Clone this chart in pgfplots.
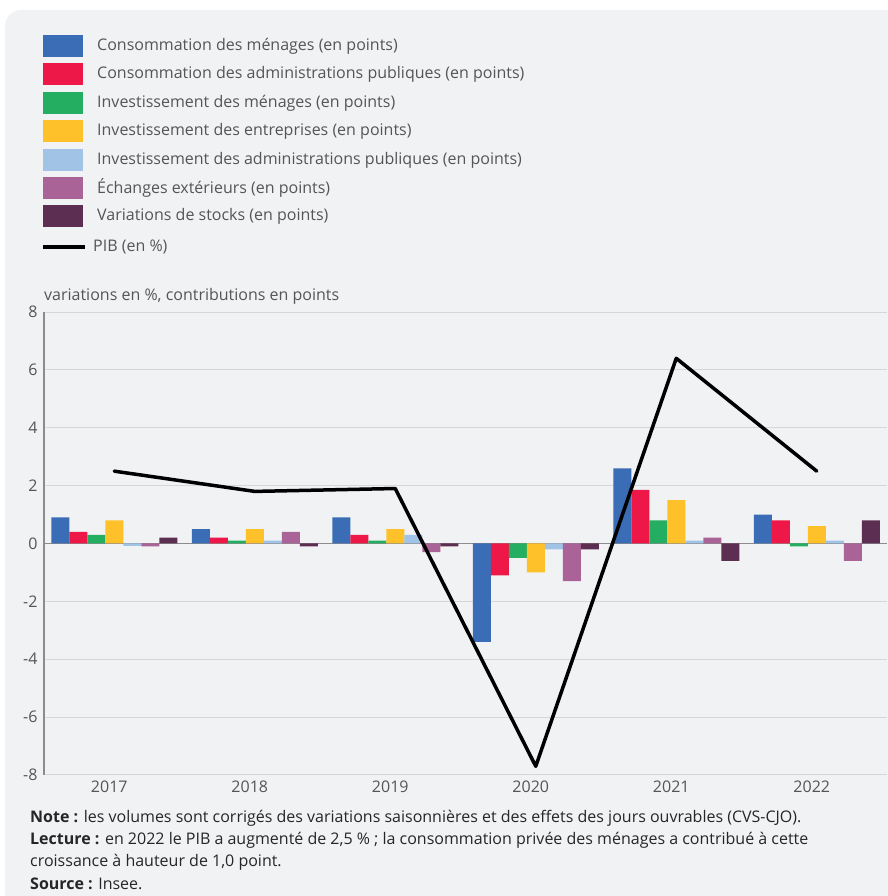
\documentclass[border=0pt]{standalone}
\usepackage{pgfplots}
\pgfplotsset{compat=1.18}
\usepackage{fontspec}
\setmainfont{Open Sans}
\definecolor{bg}{HTML}{F1F2F4}
\definecolor{cblue}{HTML}{3A6DB5}
\definecolor{cred}{HTML}{EE1848}
\definecolor{cgreen}{HTML}{23AE62}
\definecolor{cyellow}{HTML}{FFC12A}
\definecolor{clight}{HTML}{A0C3E6}
\definecolor{cpurple}{HTML}{AA6396}
\definecolor{cdark}{HTML}{5C2E52}
\definecolor{txt}{HTML}{555555}
\definecolor{gridc}{HTML}{D5D6D9}
\definecolor{zeroc}{HTML}{8C8C8C}
\newcommand{\fs}{\fontsize{16}{19}\selectfont}
\begin{document}
\begin{tikzpicture}[x=1pt,y=1pt]
\path[use as bounding box] (0,0) rectangle (887,896);
\fill[white] (0,0) rectangle (887,896);
\fill[bg, rounded corners=16pt] (5,-30) rectangle (920,886);
% legend
\fill[cblue]   (43,861) rectangle (83,839);
\fill[cred]    (43,833) rectangle (83,811);
\fill[cgreen]  (43,804) rectangle (83,782);
\fill[cyellow] (43,776) rectangle (83,754);
\fill[clight]  (43,747) rectangle (83,725);
\fill[cpurple] (43,719) rectangle (83,697);
\fill[cdark]   (43,691) rectangle (83,669);
\draw[black, line width=3.5pt] (43,649) -- (85,649);
\begin{scope}[every node/.style={anchor=west, text=txt, font=\fs, inner sep=0pt}]
\node at (97,850) {Consommation des ménages (en points)};
\node at (97,822) {Consommation des administrations publiques (en points)};
\node at (97,793) {Investissement des ménages (en points)};
\node at (97,765) {Investissement des entreprises (en points)};
\node at (97,736) {Investissement des administrations publiques (en points)};
\node at (97,708) {Échanges extérieurs (en points)};
\node at (97,680) {Variations de stocks (en points)};
\node at (93,649) {PIB (en \%)};
\node at (44,600) {variations en \%, contributions en points};
\end{scope}
\begin{axis}[
  at={(44pt,121pt)}, anchor=south west,
  scale only axis, width=843pt, height=463pt,
  xmin=-0.5, xmax=5.5, ymin=-8, ymax=8,
  ytick={-8,-6,...,8},
  xtick={0,1,2,3,4,5},
  xticklabels={2017,2018,2019,2020,2021,2022},
  axis y line*=left, axis x line*=bottom,
  axis line style={-},
  y axis line style={draw=zeroc, line width=1.2pt},
  x axis line style={draw=gridc, line width=1pt},
  major tick length=0pt,
  ymajorgrids, grid style={draw=gridc, line width=1pt},
  tick label style={font=\fs, text=txt},
  /pgf/number format/assume math mode=true,
  yticklabel style={xshift=-3pt},
  xticklabel style={yshift=-2pt, xshift=-5pt},
  clip=false,
]
\draw[zeroc, line width=1.6pt] (axis cs:-0.5,0) -- (axis cs:5.5,0);
\addplot[ybar, bar width=18pt, bar shift=-54pt, fill=cblue, draw=none] coordinates {(0,0.9) (1,0.5) (2,0.9) (3,-3.4) (4,2.6) (5,1.0)};
\addplot[ybar, bar width=18pt, bar shift=-36pt, fill=cred, draw=none] coordinates {(0,0.4) (1,0.2) (2,0.3) (3,-1.1) (4,1.85) (5,0.8)};
\addplot[ybar, bar width=18pt, bar shift=-18pt, fill=cgreen, draw=none] coordinates {(0,0.3) (1,0.1) (2,0.1) (3,-0.5) (4,0.8) (5,-0.1)};
\addplot[ybar, bar width=18pt, bar shift=0pt, fill=cyellow, draw=none] coordinates {(0,0.8) (1,0.5) (2,0.5) (3,-1.0) (4,1.5) (5,0.6)};
\addplot[ybar, bar width=18pt, bar shift=18pt, fill=clight, draw=none] coordinates {(0,-0.08) (1,0.1) (2,0.3) (3,-0.2) (4,0.1) (5,0.1)};
\addplot[ybar, bar width=18pt, bar shift=36pt, fill=cpurple, draw=none] coordinates {(0,-0.1) (1,0.4) (2,-0.3) (3,-1.3) (4,0.2) (5,-0.6)};
\addplot[ybar, bar width=18pt, bar shift=54pt, fill=cdark, draw=none] coordinates {(0,0.2) (1,-0.1) (2,-0.1) (3,-0.2) (4,-0.6) (5,0.8)};
\addplot[sharp plot, black, line width=3.5pt, line join=round, line cap=round, mark=none] coordinates {(0,2.5) (1,1.8) (2,1.9) (3,-7.7) (4,6.4) (5,2.5)};
\end{axis}
\begin{scope}[every node/.style={anchor=west, text=black!85, font=\fs, inner sep=0pt}]
\node at (30,78) {\textbf{Note :} les volumes sont corrigés des variations saisonnières et des effets des jours ouvrables (CVS-CJO).};
\node at (30,56) {\textbf{Lecture :} en 2022 le PIB a augmenté de 2,5 \% ; la consommation privée des ménages a contribué à cette};
\node at (30,34) {croissance à hauteur de 1,0 point.};
\node at (30,12) {\textbf{Source :} Insee.};
\end{scope}
\end{tikzpicture}
\end{document}
